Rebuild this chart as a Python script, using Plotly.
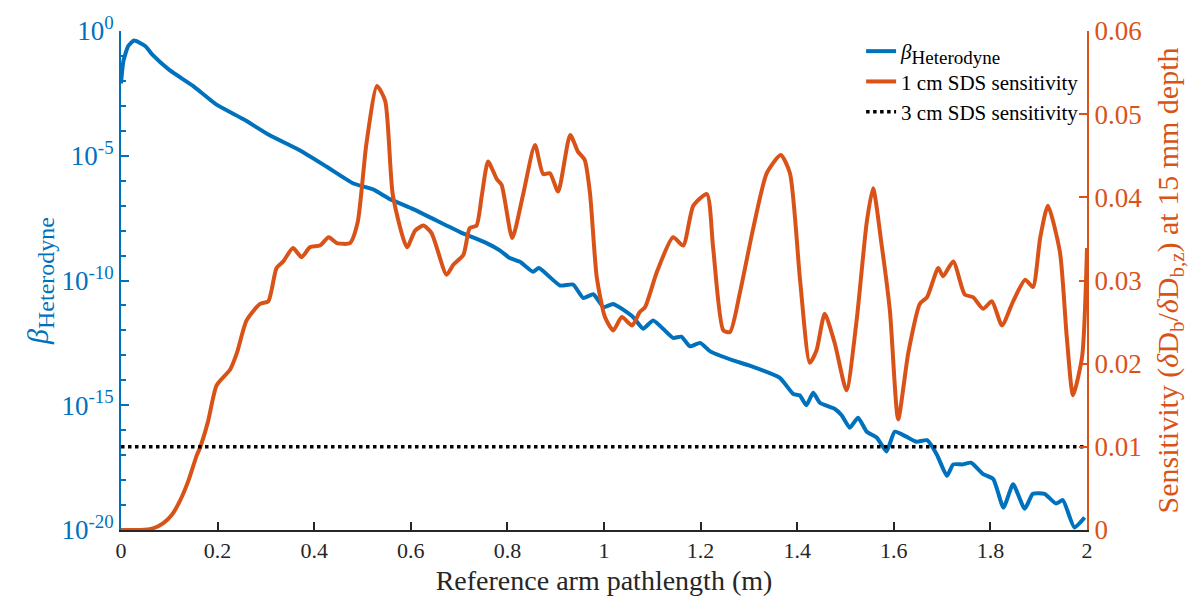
import plotly.graph_objects as go

# ---- data ----
beta_x = [0, 0.005, 0.015, 0.027, 0.05, 0.066, 0.1, 0.149, 0.197, 0.253, 0.308, 0.37, 0.425,
          0.48, 0.522, 0.557, 0.605, 0.646, 0.702, 0.757, 0.785, 0.805, 0.826, 0.853, 0.865,
          0.909, 0.936, 0.957, 0.978, 0.999, 1.019, 1.06, 1.081, 1.102, 1.143, 1.16, 1.178,
          1.199, 1.22, 1.267, 1.3, 1.364, 1.392, 1.405, 1.419, 1.433, 1.447, 1.478, 1.492,
          1.509, 1.526, 1.544, 1.565, 1.585, 1.602, 1.626, 1.647, 1.669, 1.689, 1.71, 1.723,
          1.743, 1.76, 1.785, 1.806, 1.827, 1.847, 1.871, 1.888, 1.912, 1.936, 1.95, 1.974, 1.995]
beta_log10 = [-2.1, -1.2, -0.6, -0.38, -0.6, -0.97, -1.56, -2.2, -2.94, -3.53, -4.18, -4.78, -5.43,
              -6.1, -6.35, -6.74, -7.14, -7.53, -8.06, -8.5, -8.8, -9.1, -9.25, -9.65, -9.5,
              -10.2, -10.16, -10.7, -10.55, -11.07, -10.94, -11.46, -11.93, -11.6, -12.3, -12.25, -12.64,
              -12.5, -12.84, -13.2, -13.4, -13.9, -14.55, -14.6, -15.0, -14.5, -14.9, -15.15, -15.4,
              -15.9, -15.5, -16.06, -16.3, -16.85, -16.06, -16.26, -16.46, -16.4, -16.97, -17.83, -17.37,
              -17.37, -17.3, -17.76, -17.96, -19.1, -18.17, -19.15, -18.55, -18.55, -18.94, -18.8, -19.9, -19.5]

sens1_x = [0, 0.04, 0.066, 0.087, 0.105, 0.122, 0.14, 0.157, 0.163, 0.18, 0.198, 0.226, 0.24, 0.26,
           0.288, 0.305, 0.322, 0.336, 0.356, 0.374, 0.391, 0.412, 0.43, 0.447, 0.474, 0.49, 0.508,
           0.53, 0.547, 0.563, 0.592, 0.609, 0.626, 0.643, 0.674, 0.688, 0.709, 0.722, 0.736, 0.747,
           0.76, 0.778, 0.788, 0.81, 0.832, 0.857, 0.874, 0.888, 0.905, 0.93, 0.946, 0.96, 0.971,
           0.985, 1.002, 1.019, 1.037, 1.058, 1.074, 1.085, 1.11, 1.143, 1.164, 1.185, 1.213, 1.226,
           1.247, 1.261, 1.282, 1.309, 1.337, 1.366, 1.385, 1.406, 1.426, 1.44, 1.457, 1.478, 1.502,
           1.523, 1.544, 1.557, 1.575, 1.592, 1.609, 1.63, 1.654, 1.669, 1.692, 1.702, 1.723, 1.747,
           1.764, 1.785, 1.803, 1.824, 1.847, 1.872, 1.888, 1.903, 1.919, 1.944, 1.958, 1.971, 1.99, 2.0]
sens1_y = [0, 0, 0.0002, 0.0008, 0.0018, 0.0035, 0.006, 0.009, 0.0098, 0.013, 0.0174, 0.0193, 0.0213, 0.0252,
           0.0272, 0.0275, 0.0315, 0.0323, 0.0339, 0.0328, 0.034, 0.0342, 0.0352, 0.0345, 0.0345, 0.037, 0.0464,
           0.0534, 0.0516, 0.0402, 0.034, 0.036, 0.0366, 0.0357, 0.0307, 0.0319, 0.0331, 0.0363, 0.0366, 0.0402,
           0.0443, 0.0422, 0.0415, 0.0351, 0.0402, 0.0463, 0.0428, 0.0429, 0.0407, 0.0475, 0.0455, 0.0445, 0.0405,
           0.0304, 0.0256, 0.024, 0.0256, 0.0246, 0.0262, 0.0268, 0.0311, 0.0352, 0.0342, 0.039, 0.0404, 0.0339,
           0.024, 0.0238, 0.0287, 0.0363, 0.0429, 0.0451, 0.0429, 0.0300, 0.0201, 0.0216, 0.026, 0.0224, 0.0168,
           0.0252, 0.037, 0.0411, 0.0342, 0.0263, 0.0133, 0.0213, 0.0272, 0.028, 0.0315, 0.0305, 0.0323, 0.0283,
           0.028, 0.0266, 0.0275, 0.0246, 0.0275, 0.0301, 0.0292, 0.0351, 0.039, 0.0334, 0.0233, 0.0162, 0.0209, 0.0339]

sens3_x = [0, 2]
sens3_y = [0.01, 0.01]

x_ticks = [0, 0.2, 0.4, 0.6, 0.8, 1, 1.2, 1.4, 1.6, 1.8, 2]
x_ticklabels = ["0", "0.2", "0.4", "0.6", "0.8", "1", "1.2", "1.4", "1.6", "1.8", "2"]
left_ticks = [-20, -15, -10, -5, 0]
left_ticklabels = ["10<sup>-20</sup>", "10<sup>-15</sup>", "10<sup>-10</sup>", "10<sup>-5</sup>", "10<sup>0</sup>"]
right_ticks = [0, 0.01, 0.02, 0.03, 0.04, 0.05, 0.06]
right_ticklabels = ["0", "0.01", "0.02", "0.03", "0.04", "0.05", "0.06"]

assert len(beta_x) == len(beta_log10)
assert len(sens1_x) == len(sens1_y)

BLUE = "#0072BD"
ORANGE = "#D95319"
DARK = "#262626"
FONT = "Liberation Serif"

fig = go.Figure()
fig.add_trace(go.Scatter(x=beta_x, y=beta_log10, mode="lines",
                         name="<i>β</i><sub><span style=\"font-size:19px\">Heterodyne</span></sub>",
                         line=dict(color=BLUE, width=4, shape="spline", smoothing=0.5), yaxis="y"))
fig.add_trace(go.Scatter(x=sens1_x, y=sens1_y, mode="lines", name="1 cm SDS sensitivity",
                         line=dict(color=ORANGE, width=4, shape="spline", smoothing=0.6), yaxis="y2"))
fig.add_trace(go.Scatter(x=sens3_x, y=sens3_y, mode="lines", name="3 cm SDS sensitivity",
                         line=dict(color="black", width=3.5, dash="dot"), yaxis="y2"))

fig.update_layout(
    width=1195, height=607,
    margin=dict(l=121, r=108, t=22, b=77),
    paper_bgcolor="white", plot_bgcolor="white",
    font=dict(family=FONT, size=20, color=DARK),
    showlegend=True,
    legend=dict(x=0.997, xanchor="right", y=1.0, yanchor="top", bgcolor="rgba(0,0,0,0)",
                font=dict(family=FONT, size=21, color="black"), tracegroupgap=0, itemwidth=30),
    xaxis=dict(range=[0, 2], tickmode="array", tickvals=x_ticks, ticktext=x_ticklabels,
               ticks="inside", ticklen=8, tickwidth=1.5, tickcolor=DARK,
               showline=True, linecolor=DARK, linewidth=1.5, showgrid=False, zeroline=False,
               tickfont=dict(family=FONT, size=22, color=DARK),
               title=dict(text="Reference arm pathlength (m)", font=dict(family=FONT, size=28, color=DARK), standoff=8)),
    yaxis=dict(range=[-20, 0], tickmode="array", tickvals=left_ticks, ticktext=left_ticklabels,
               ticks="inside", ticklen=8, tickwidth=2, tickcolor=BLUE,
               minor=dict(dtick=1, ticks="inside", ticklen=5, tickwidth=2, tickcolor=BLUE, showgrid=False),
               showline=True, linecolor=BLUE, linewidth=2, showgrid=False, zeroline=False,
               tickfont=dict(family=FONT, size=27, color=BLUE),
               title=dict(text="<i>β</i><sub><span style=\"font-size:24px\">Heterodyne</span></sub>",
                          font=dict(family=FONT, size=30, color=BLUE), standoff=4)),
    yaxis2=dict(range=[0, 0.06], overlaying="y", side="right", tickmode="array", tickvals=right_ticks,
                ticktext=right_ticklabels, ticks="inside", ticklen=8, tickwidth=2, tickcolor=ORANGE,
                showline=True, linecolor=ORANGE, linewidth=2, showgrid=False, zeroline=False,
                tickfont=dict(family=FONT, size=27, color=ORANGE),
                title=dict(text="Sensitivity (<i>δ</i>D<sub>b</sub>/<i>δ</i>D<sub>b,z</sub>) at 15 mm depth",
                           font=dict(family=FONT, size=30, color=ORANGE), standoff=16)),
)

fig.write_html("out.html")
